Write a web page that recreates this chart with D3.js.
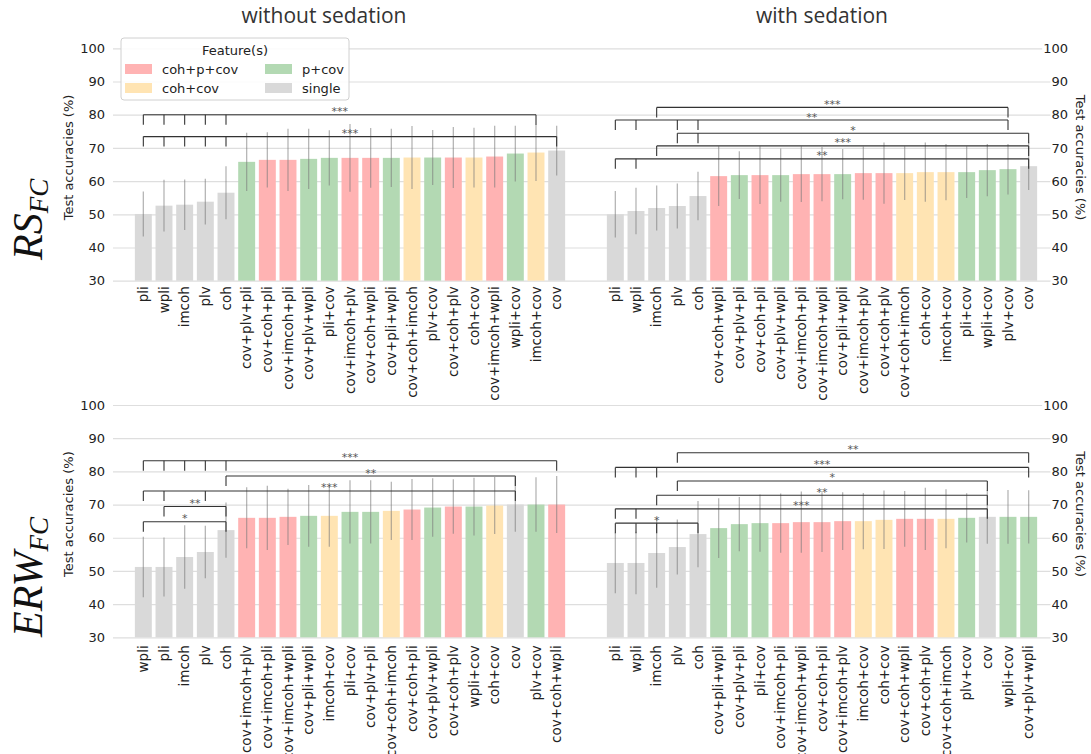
<!DOCTYPE html>
<html>
<head>
<meta charset="utf-8">
<script src="https://cdn.jsdelivr.net/npm/d3@7"></script>
<style>
  body { margin: 0; background: #fff; }
</style>
</head>
<body>
<div id="chart"></div>
<script>
// ---- RS_FC, without sedation
const rsNoSedLabels = ["pli", "wpli", "imcoh", "plv", "coh", "cov+plv+pli", "cov+coh+pli", "cov+imcoh+pli",
  "cov+plv+wpli", "pli+cov", "cov+imcoh+plv", "cov+coh+wpli", "cov+pli+wpli", "cov+coh+imcoh", "plv+cov",
  "cov+coh+plv", "coh+cov", "cov+imcoh+wpli", "wpli+cov", "imcoh+cov", "cov"];
const rsNoSedMeans = [50.1, 52.6, 52.9, 53.8, 56.5, 65.8, 66.4, 66.4, 66.7, 67.0, 67.0, 67.0, 67.0, 67.1, 67.1,
  67.1, 67.1, 67.4, 68.3, 68.6, 69.2];
const rsNoSedErr = [6.8, 7.8, 7.6, 6.9, 8.0, 8.8, 8.3, 9.4, 9.1, 8.3, 10.2, 9.0, 8.8, 9.5, 8.3, 9.2, 9.0, 9.3,
  8.4, 8.6, 7.5];
const rsNoSedBrackets = [
  { from: [0, 1, 2, 3, 4], to: 19, level: 80.0, stars: "***" },
  { from: [0, 1, 2, 3, 4], to: 20, level: 73.4, stars: "***" }
];

// ---- RS_FC, with sedation
const rsSedLabels = ["pli", "wpli", "imcoh", "plv", "coh", "cov+coh+wpli", "cov+plv+pli", "cov+coh+pli",
  "cov+plv+wpli", "cov+imcoh+pli", "cov+imcoh+wpli", "cov+pli+wpli", "cov+imcoh+plv", "cov+coh+plv",
  "cov+coh+imcoh", "coh+cov", "imcoh+cov", "pli+cov", "wpli+cov", "plv+cov", "cov"];
const rsSedMeans = [50.0, 51.0, 51.9, 52.5, 55.5, 61.5, 61.8, 61.8, 61.8, 62.1, 62.1, 62.1, 62.4, 62.4, 62.4,
  62.7, 62.7, 62.7, 63.3, 63.6, 64.5];
const rsSedErr = [7.0, 7.0, 6.8, 6.8, 7.3, 9.0, 7.2, 8.7, 8.0, 8.4, 8.2, 7.6, 8.0, 9.2, 8.1, 8.9, 8.5, 7.8,
  7.9, 7.6, 7.2];
const rsSedBrackets = [
  { from: [2], to: 19, level: 82.2, stars: "***" },
  { from: [0, 1, 3, 4], to: 19, level: 78.4, stars: "**" },
  { from: [3, 4], to: 20, level: 74.4, stars: "*" },
  { from: [2], to: 20, level: 70.6, stars: "***" },
  { from: [0, 1], to: 20, level: 66.7, stars: "**" }
];

// ---- ERW_FC, without sedation
const erwNoSedLabels = ["wpli", "pli", "imcoh", "plv", "coh", "cov+imcoh+plv", "cov+imcoh+pli", "cov+imcoh+wpli",
  "cov+pli+wpli", "imcoh+cov", "pli+cov", "cov+plv+pli", "cov+coh+imcoh", "cov+coh+pli", "cov+plv+wpli",
  "cov+coh+plv", "wpli+cov", "coh+cov", "cov", "plv+cov", "cov+coh+wpli"];
const erwNoSedMeans = [51.2, 51.2, 54.2, 55.7, 62.3, 66.0, 66.0, 66.3, 66.6, 66.6, 67.8, 67.8, 68.1, 68.5, 69.1,
  69.4, 69.4, 69.7, 70.0, 70.0, 70.0];
const erwNoSedErr = [9.1, 8.9, 9.6, 7.9, 8.3, 9.2, 9.7, 8.5, 9.3, 9.3, 9.5, 9.5, 8.8, 9.2, 8.8, 8.2, 8.7, 8.6,
  8.2, 8.2, 8.6];
const erwNoSedBrackets = [
  { from: [0, 1, 2, 3, 4], to: 20, level: 83.2, stars: "***" },
  { from: [4], to: 18, level: 78.6, stars: "**" },
  { from: [0, 1, 3], to: 18, level: 74.1, stars: "***" },
  { from: [1], to: 4, level: 69.4, stars: "**" },
  { from: [0], to: 4, level: 64.8, stars: "*" }
];

// ---- ERW_FC, with sedation
const erwSedLabels = ["pli", "wpli", "imcoh", "plv", "coh", "cov+pli+wpli", "cov+plv+pli", "pli+cov",
  "cov+imcoh+pli", "cov+imcoh+wpli", "cov+coh+pli", "cov+imcoh+plv", "imcoh+cov", "coh+cov", "cov+coh+wpli",
  "cov+coh+plv", "cov+coh+imcoh", "plv+cov", "cov", "wpli+cov", "cov+plv+wpli"];
const erwSedMeans = [52.4, 52.4, 55.4, 57.2, 61.1, 62.9, 64.1, 64.4, 64.4, 64.7, 64.7, 65.0, 65.0, 65.4, 65.7,
  65.7, 65.7, 66.0, 66.3, 66.3, 66.3];
const erwSedErr = [9.1, 9.4, 10.5, 8.3, 10.0, 9.0, 8.2, 8.6, 8.9, 9.2, 9.0, 8.7, 8.5, 8.8, 8.4, 9.4, 8.9, 7.4,
  8.1, 8.1, 8.0];
const erwSedBrackets = [
  { from: [3], to: 20, level: 85.6, stars: "**" },
  { from: [0, 1, 2], to: 20, level: 81.2, stars: "***" },
  { from: [3], to: 18, level: 77.1, stars: "*" },
  { from: [2], to: 18, level: 72.8, stars: "**" },
  { from: [0, 1], to: 18, level: 68.7, stars: "***" },
  { from: [0, 1, 2], to: 4, level: 64.4, stars: "*" }
];

const yTicks = [30, 40, 50, 60, 70, 80, 90, 100];
const groups = ["coh+p+cov", "coh+cov", "p+cov", "single"];
const groupColors = ["#ffb3b3", "#ffe4b3", "#b3d9b3", "#d9d9d9"];

const color = d3.scaleOrdinal().domain(groups).range(groupColors);
const FONT = "'DejaVu Sans', sans-serif";

// feature group of a bar, from its name
function groupOf(name) {
  const parts = name.split("+");
  if (parts.length === 1) return "single";
  const hasCoh = parts.some(p => p === "coh" || p === "imcoh");
  const hasP = parts.some(p => p === "pli" || p === "wpli" || p === "plv");
  if (hasCoh && hasP) return "coh+p+cov";
  if (hasCoh) return "coh+cov";
  return "p+cov";
}

const width = 1091, height = 754;
const svg = d3.select("#chart").append("svg")
  .attr("width", width)
  .attr("height", height)
  .style("font-family", FONT);

// top row tick labels are cut off in the original
svg.append("clipPath").attr("id", "topClip")
  .append("rect").attr("x", 0).attr("y", 0).attr("width", width).attr("height", 394);

const panels = [
  { labels: rsNoSedLabels, means: rsNoSedMeans, err: rsNoSedErr, brackets: rsNoSedBrackets,
    left: 113, right: 587, top: 48.3, bottom: 280.7, side: "left", row: 0, legend: true },
  { labels: rsSedLabels, means: rsSedMeans, err: rsSedErr, brackets: rsSedBrackets,
    left: 585, right: 1059, top: 48.3, bottom: 280.7, side: "right", row: 0 },
  { labels: erwNoSedLabels, means: erwNoSedMeans, err: erwNoSedErr, brackets: erwNoSedBrackets,
    left: 113, right: 587, top: 405, bottom: 637.3, side: "left", row: 1 },
  { labels: erwSedLabels, means: erwSedMeans, err: erwSedErr, brackets: erwSedBrackets,
    left: 585, right: 1059, top: 405, bottom: 637.3, side: "right", row: 1 }
];

panels.forEach(drawPanel);

function drawPanel(p) {
  const n = p.labels.length;
  const x = d3.scaleBand()
    .domain(d3.range(n))
    .range([p.left + 20, p.right - 20])
    .paddingInner(0.18)
    .paddingOuter(0.09);
  const y = d3.scaleLinear().domain([30, 100]).range([p.bottom, p.top]);
  const cx = i => x(i) + x.bandwidth() / 2;

  const g = svg.append("g");

  // y axis + grid
  const gridLeft = p.side === "left" ? p.left : 587;
  if (p.side === "left") {
    const ax = g.append("g")
      .attr("transform", `translate(${p.left},0)`)
      .call(d3.axisLeft(y).tickValues(yTicks).tickSize(-(p.right - p.left)).tickPadding(8))
      .attr("font-family", FONT);
    ax.select(".domain").remove();
    ax.selectAll(".tick line").attr("stroke", "#dedede").attr("stroke-width", 1.2);
    ax.selectAll(".tick text").attr("font-size", 13).attr("fill", "#222");
  } else {
    const ax = g.append("g")
      .attr("transform", `translate(${p.right},0)`)
      .call(d3.axisRight(y).tickValues(yTicks).tickSize(-(p.right - gridLeft)).tickPadding(9))
      .attr("font-family", FONT);
    ax.select(".domain").remove();
    ax.selectAll(".tick line").attr("stroke", "#dedede").attr("stroke-width", 1.2);
    ax.selectAll(".tick text").attr("font-size", 13).attr("fill", "#222").attr("text-anchor", "end");
    ax.selectAll(".tick").each(function () {
      const t = d3.select(this).select("text");
      const bb = t.node().getBBox();
      d3.select(this).insert("rect", "text")
        .attr("x", bb.x - 1).attr("y", bb.y + 2)
        .attr("width", bb.width + 2).attr("height", bb.height - 4)
        .attr("fill", "#fff");
    });
  }

  // bars
  g.append("g").selectAll("rect")
    .data(p.means)
    .join("rect")
    .attr("x", (d, i) => x(i))
    .attr("y", d => y(d))
    .attr("width", x.bandwidth())
    .attr("height", d => y(30) - y(d))
    .attr("fill", (d, i) => color(groupOf(p.labels[i])));

  // error bars
  g.append("g").selectAll("line")
    .data(p.means)
    .join("line")
    .attr("x1", (d, i) => cx(i))
    .attr("x2", (d, i) => cx(i))
    .attr("y1", (d, i) => y(d - p.err[i]))
    .attr("y2", (d, i) => y(d + p.err[i]))
    .attr("stroke", "#7a7a7a")
    .attr("stroke-opacity", 0.55)
    .attr("stroke-width", 1.3);

  // significance brackets
  const tick = 10;
  const bg = g.append("g");
  p.brackets.forEach(b => {
    const ly = y(b.level);
    const xs = b.from.map(cx).concat([cx(b.to)]);
    bg.append("line")
      .attr("x1", d3.min(xs)).attr("x2", d3.max(xs))
      .attr("y1", ly).attr("y2", ly)
      .attr("stroke", "#333").attr("stroke-width", 1.1);
    xs.forEach(xx => {
      bg.append("line")
        .attr("x1", xx).attr("x2", xx)
        .attr("y1", ly).attr("y2", ly + tick)
        .attr("stroke", "#333").attr("stroke-width", 1.1);
    });
    bg.append("text")
      .attr("x", (d3.min(xs) + d3.max(xs)) / 2)
      .attr("y", ly + 0.5)
      .attr("text-anchor", "middle")
      .attr("font-size", 11)
      .attr("fill", "#555")
      .text(b.stars);
  });

  // x tick labels
  const xa = g.append("g")
    .attr("transform", `translate(0,${p.bottom})`)
    .call(d3.axisBottom(x).tickSize(0).tickFormat(i => p.labels[i]))
    .attr("font-family", FONT);
  xa.select(".domain").remove();
  xa.selectAll(".tick text")
    .attr("font-size", 13.5)
    .attr("fill", "#222")
    .attr("transform", "rotate(-90)")
    .attr("text-anchor", "end")
    .attr("x", p.row === 0 ? -5.5 : -8)
    .attr("y", 0)
    .attr("dy", "0.35em");
  if (p.row === 0) xa.attr("clip-path", "url(#topClip)");

  // y label
  const midY = (p.top + p.bottom) / 2 - 7;
  if (p.side === "left") {
    g.append("text")
      .attr("transform", `translate(68,${midY}) rotate(-90)`)
      .attr("text-anchor", "middle").attr("dy", "0.35em")
      .attr("font-size", 13).attr("fill", "#222")
      .text("Test accuracies (%)");
  } else {
    g.append("text")
      .attr("transform", `translate(1081,${midY}) rotate(90)`)
      .attr("text-anchor", "middle").attr("dy", "0.35em")
      .attr("font-size", 13).attr("fill", "#222")
      .text("Test accuracies (%)");
  }

  if (p.legend) drawLegend();
}

function drawLegend() {
  const lg = svg.append("g");
  lg.append("rect")
    .attr("x", 121).attr("y", 38).attr("width", 228).attr("height", 62)
    .attr("rx", 3)
    .attr("fill", "#fff").attr("fill-opacity", 0.85)
    .attr("stroke", "#d0d0d0");
  lg.append("text")
    .attr("x", 235).attr("y", 50).attr("dy", "0.35em")
    .attr("text-anchor", "middle").attr("font-size", 13).attr("fill", "#222")
    .text("Feature(s)");
  const order = ["coh+p+cov", "coh+cov", "p+cov", "single"];
  order.forEach((k, i) => {
    const col = Math.floor(i / 2), row = i % 2;
    const px = col === 0 ? 125 : 265;
    const py = row === 0 ? 64 : 83;
    lg.append("rect")
      .attr("x", px).attr("y", py).attr("width", 27).attr("height", 10)
      .attr("fill", color(k));
    lg.append("text")
      .attr("x", px + 37).attr("y", py + 5).attr("dy", "0.35em")
      .attr("font-size", 13).attr("fill", "#222")
      .text(k);
  });
}

// column titles
svg.append("text")
  .attr("x", 324).attr("y", 23)
  .attr("text-anchor", "middle")
  .style("font-family", "'Open Sans', sans-serif")
  .attr("font-size", 21).attr("fill", "#333")
  .text("without sedation");
svg.append("text")
  .attr("x", 822).attr("y", 23)
  .attr("text-anchor", "middle")
  .style("font-family", "'Open Sans', sans-serif")
  .attr("font-size", 21).attr("fill", "#333")
  .text("with sedation");

// row titles
function rowTitle(main, yStart) {
  const t = svg.append("text")
    .attr("transform", `translate(42,${yStart}) rotate(-90)`)
    .style("font-family", "'Liberation Serif', 'DejaVu Serif', serif")
    .style("font-style", "italic")
    .attr("fill", "#111");
  t.append("tspan").attr("font-size", 42).text(main);
  t.append("tspan").attr("font-size", 27).attr("dy", 6).text("FC");
}
rowTitle("RS", 260);
rowTitle("ERW", 637);
</script>
</body>
</html>
